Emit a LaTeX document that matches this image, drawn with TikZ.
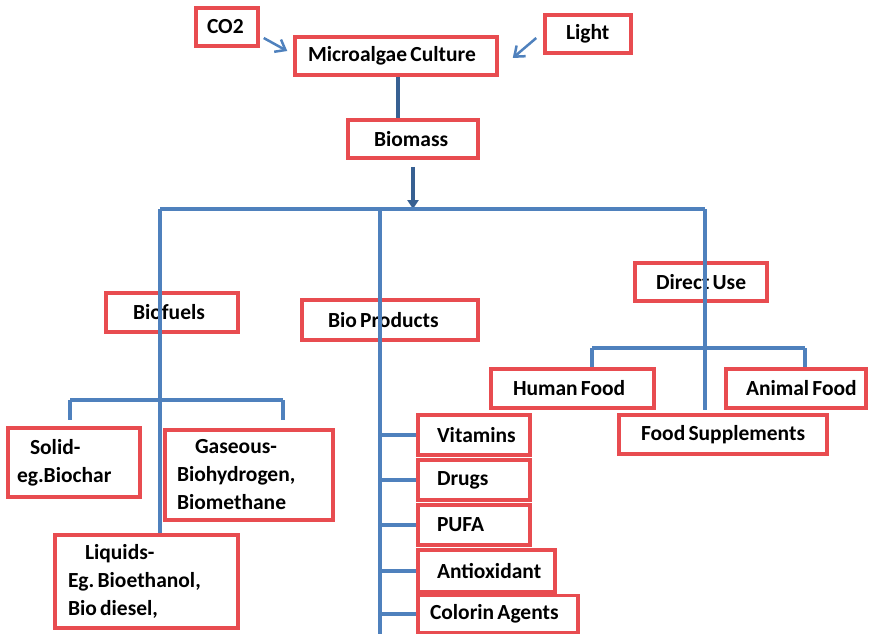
\documentclass[tikz,border=0pt]{standalone}
\usepackage{fontspec}
\setmainfont{Carlito}
\usetikzlibrary{arrows.meta,calc}
\definecolor{boxred}{HTML}{E84C50}
\definecolor{lnblue}{HTML}{4F81BD}
\definecolor{dkblue}{HTML}{376092}
\newcommand{\fnt}{\fontsize{21.5}{28}\selectfont\bfseries\frenchspacing}
\tikzset{
  box/.style={draw=boxred, line width=3.5pt, align=left, font=\fnt, inner ysep=0pt,
    execute at begin node={\spaceskip=0.15em plus 0.03em\relax\xspaceskip=0.15em\relax}},
  ln/.style={draw=lnblue, line width=3.5pt},
  dk/.style={draw=dkblue, line width=3.5pt},
  arr/.style={draw=lnblue, line width=2.5pt, -{Straight Barb[length=9pt,width=14pt,line width=2.5pt]}},
}
\begin{document}
\begin{tikzpicture}[x=1pt,y=-1pt]
\useasboundingbox (0,0) rectangle (873,634);
% junction coordinates
\coordinate (j1) at (160,209);
\coordinate (j2) at (380,209);
\coordinate (j3) at (705,209);
\coordinate (s1) at (70,400);
\coordinate (s2) at (283,400);
\coordinate (d1) at (592,348);
\coordinate (d2) at (805,348);
\coordinate (bpend) at (380,636);
\coordinate (x398) at (398,0);

% nodes
\node[box, minimum height=38, inner xsep=11, text width=40] (co2) at (227,27) {\mbox{CO2}};
\node[box, minimum height=38, inner xsep=13, text width=176] (mc) at (396,56) {\mbox{Microalgae Culture}};
\node[box, minimum height=38, inner xsep=21, text width=44] (lt) at (588,34) {\mbox{Light}};
\node[box, minimum height=38, inner xsep=26, text width=78] (bm) at (413,139) {\mbox{Biomass}};
\node[box, minimum height=39, inner xsep=27, text width=78] (bf) at (172,312.5) {\mbox{Biofuels}};
\node[box, minimum height=40, inner xsep=26, text width=124] (bp) at (390,320) {\mbox{Bio Products}};
\node[box, minimum height=38, inner xsep=21, text width=90] (du) at (701,282) {\mbox{Direct Use}};
\node[box, minimum height=39, inner xsep=22, text width=119] (hf) at (572.5,388.5) {\mbox{Human Food}};
\node[box, minimum height=39, inner xsep=20, text width=100] (af) at (796,388.5) {\mbox{Animal Food}};
\node[box, minimum height=39, inner xsep=22, text width=164] (fs) at (723,434.5) {\mbox{Food Supplements}};
\node[box, minimum height=69, inner xsep=9, text width=114] (so) at (74,462.5) {\hspace{13pt}Solid-\\eg.Biochar};
\node[box, minimum height=90, inner xsep=12, text width=144] (ga) at (249,475) {\hspace{18pt}Gaseous-\\Biohydrogen,\\Biomethane};
\node[box, minimum height=93, inner xsep=13, text width=157] (lq) at (146.5,581.5) {\hspace{17pt}Liquids-\\\mbox{Eg. Bioethanol,}\\Bio diesel,};
\node[box, minimum height=40, inner xsep=19, text width=74] (vi) at (474,435) {\mbox{Vitamins}};
\node[box, minimum height=40, inner xsep=19, text width=74] (dr) at (474,480) {\mbox{Drugs}};
\node[box, minimum height=40, inner xsep=19, text width=74] (pu) at (474,525) {\mbox{PUFA}};
\node[box, minimum height=42, inner xsep=19, text width=99] (ao) at (486.5,571) {\mbox{Antioxidant}};
\node[box, minimum height=37, inner xsep=12, text width=136] (ca) at (498,614) {\mbox{Colorin Agents}};

% connectors
\draw[dk] (mc.south -| x398) -- (bm.north -| x398);
\draw[dk, -{Triangle[length=9pt,width=11pt]}] ($(bm.south)+(0,7)$) -- (bm.south |- j2);
\draw[ln] (j1) -- (j3);
\draw[ln] (j1) -- (j1 |- lq.north);
\draw[ln] (s1) -- (s2);
\draw[ln] (s1) -- ($(s1 |- so.north)+(0,-6)$);
\draw[ln] (s2) -- ($(s2 |- ga.north)+(0,-8)$);
\draw[ln] (j2) -- (bpend);
\draw[ln] (vi.west -| j2) -- (vi.west);
\draw[ln] (dr.west -| j2) -- (dr.west);
\draw[ln] (pu.west -| j2) -- (pu.west);
\draw[ln] (ao.west -| j2) -- (ao.west);
\draw[ln] (ca.west -| j2) -- (ca.west);
\draw[ln] (j3) -- (j3 |- hf.south);
\draw[ln] (d1) -- (d2);
\draw[ln] (d1) -- (d1 |- hf.north);
\draw[ln] (d2) -- (d2 |- af.north);
\draw[arr] ($(co2.east)+(4,11)$) -- ($(mc.west)+(-6,-5)$);
\draw[arr] ($(lt.west)+(-7,4)$) -- ($(mc.east)+(14,2)$);
\end{tikzpicture}
\end{document}
